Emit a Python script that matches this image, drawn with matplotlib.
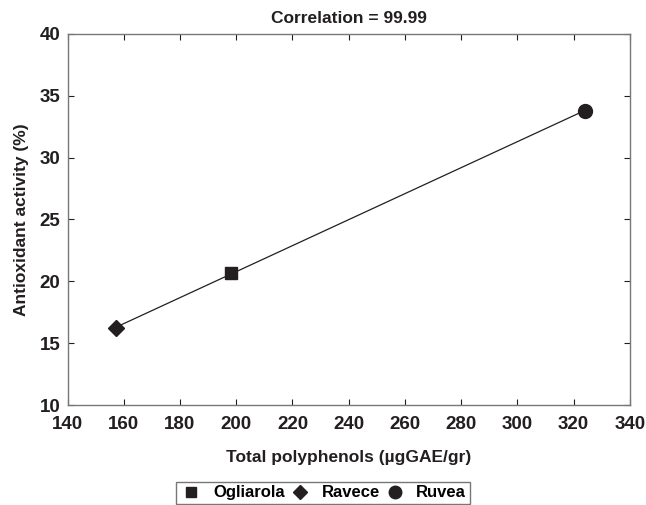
import numpy as np
import matplotlib
matplotlib.use("Agg")
import matplotlib.pyplot as plt

plt.rcParams['font.family'] = ['Liberation Sans', 'DejaVu Sans']
plt.rcParams['font.weight'] = 'bold'

# Data
cultivars = ["Ogliarola", "Ravece", "Ruvea"]
polyphenols = [198.2, 157.2, 324.2]
antioxidant = [20.7, 16.2, 33.8]
markers = ["s", "D", "o"]
marker_sizes = [8, 8, 10]

x_ticks = np.arange(140, 341, 20)
y_ticks = np.arange(10, 41, 5)

fig = plt.figure(figsize=(6.46, 5.05), dpi=100)
ax = fig.add_axes([0.1045, 0.198, 0.8705, 0.735])

# linear fit line through the points
coef = np.polyfit(polyphenols, antioxidant, 1)
xl = np.array([min(polyphenols), max(polyphenols)])
ax.plot(xl, np.polyval(coef, xl), color='#231f20', lw=0.9, zorder=2)

for name, xv, yv, m, s in zip(cultivars, polyphenols, antioxidant, markers, marker_sizes):
    ax.plot(xv, yv, marker=m, ms=s, color='#231f20', ls='none', label=name, zorder=3)

ax.set_xlim(140, 340)
ax.set_ylim(10, 40)
ax.set_xticks(x_ticks)
ax.set_yticks(y_ticks)
ax.tick_params(direction='in', top=True, right=True, length=4, width=0.8,
               labelsize=13.5, colors='#231f20')
ax.tick_params(axis='x', pad=8)
ax.tick_params(axis='y', pad=5)
for lab in ax.get_xticklabels() + ax.get_yticklabels():
    lab.set_fontweight('bold')
for sp in ax.spines.values():
    sp.set_color('#777777')
    sp.set_linewidth(1.0)

ax.set_xlabel("Total polyphenols (µgGAE/gr)", fontsize=12.5, fontweight='bold', color='#231f20', labelpad=12)
ax.set_ylabel("Antioxidant activity (%)", fontsize=12.5, fontweight='bold', color='#231f20', labelpad=8)
ax.set_title("Correlation = 99.99", fontsize=12.5, fontweight='bold', color='#231f20', pad=8)

leg = fig.legend(loc='center', bbox_to_anchor=(0.5, 0.024), ncol=3, fontsize=12,
                 frameon=True, fancybox=False, edgecolor='#555555', handlelength=1.4,
                 handletextpad=0.6, columnspacing=0.2, borderpad=0.2, markerscale=0.9)
leg.get_frame().set_linewidth(1.0)

fig.savefig("out.png", dpi=100)
